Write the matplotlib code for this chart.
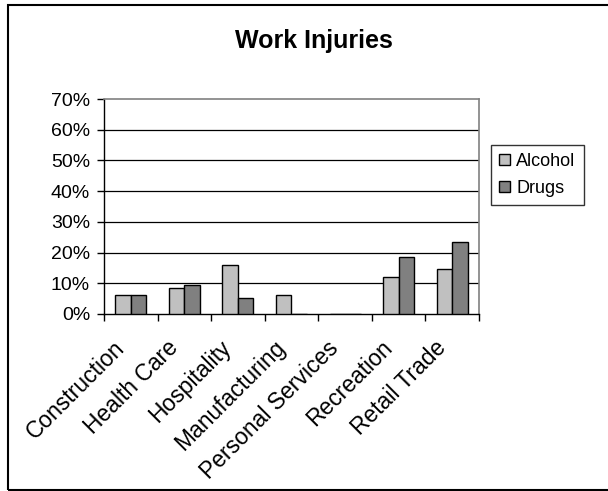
import matplotlib
matplotlib.use("Agg")
import matplotlib.pyplot as plt
import numpy as np
from matplotlib.patches import Rectangle
from matplotlib.ticker import FixedLocator, PercentFormatter
from matplotlib.transforms import ScaledTranslation

categories = ["Construction", "Health Care", "Hospitality", "Manufacturing",
              "Personal Services", "Recreation", "Retail Trade"]
alcohol = [6.1, 8.4, 15.9, 6.1, 0.0, 12.1, 14.8]
drugs = [6.1, 9.4, 5.2, 0.0, 0.0, 18.6, 23.4]
yticks = [0, 10, 20, 30, 40, 50, 60, 70]

plt.rcParams["font.family"] = ["Liberation Sans", "DejaVu Sans"]

fig = plt.figure(figsize=(6.08, 4.91), dpi=100)
ax = fig.add_axes([104 / 608, 1 - 314 / 491, 375 / 608, 215 / 491])

x = np.arange(len(categories))
w = 0.29
ax.bar(x - w / 2, alcohol, w, color="#C0C0C0", edgecolor="black", linewidth=1.0,
       label="Alcohol", zorder=3)
ax.bar(x + w / 2, drugs, w, color="#808080", edgecolor="black", linewidth=1.0,
       label="Drugs", zorder=3)

ax.set_xlim(-0.5, len(categories) - 0.5)
ax.set_ylim(0, 70)
ax.set_yticks(yticks)
ax.yaxis.set_major_formatter(PercentFormatter(decimals=0))
for v in yticks[1:-1]:
    ax.axhline(v, color="black", linewidth=0.9, zorder=1)

ax.set_xticks(x)
ax.set_xticklabels(categories, rotation=45, ha="right", va="center",
                   rotation_mode="anchor", fontsize=16.5)
ax.tick_params(axis="x", which="major", length=0, pad=22)
shift = ScaledTranslation(-10 / 100, 0, fig.dpi_scale_trans)
for lbl in ax.get_xticklabels():
    lbl.set_transform(lbl.get_transform() + shift)
ax.xaxis.set_minor_locator(FixedLocator(np.arange(-0.5, len(categories), 1.0)))
ax.tick_params(axis="x", which="minor", length=5, width=1, color="black")
ax.tick_params(axis="y", length=5, width=1, labelsize=14, pad=5)

for s in ("left", "bottom"):
    ax.spines[s].set_color("black")
    ax.spines[s].set_linewidth(1.0)
for s in ("top", "right"):
    ax.spines[s].set_color("#808080")
    ax.spines[s].set_linewidth(1.2)

leg = ax.legend(loc="upper left", bbox_to_anchor=(491 / 608, 1 - 145 / 491),
                bbox_transform=fig.transFigure, frameon=True, fancybox=False,
                fontsize=13, handlelength=0.6, handleheight=0.6,
                handletextpad=0.35, borderpad=0.45, labelspacing=0.55,
                borderaxespad=0)
leg.get_frame().set_edgecolor("black")
leg.get_frame().set_linewidth(1.0)

fig.text(314 / 608, 1 - 41 / 491, "Work Injuries", ha="center", va="center",
         fontsize=18, fontweight="bold")

fig.patches.append(Rectangle((7.5 / 608, 1 - 489.5 / 491), 1.2, (489.5 - 4.5) / 491,
                             transform=fig.transFigure, fill=False,
                             edgecolor="black", linewidth=1.5))

fig.savefig("out.png", dpi=100, facecolor="white")
